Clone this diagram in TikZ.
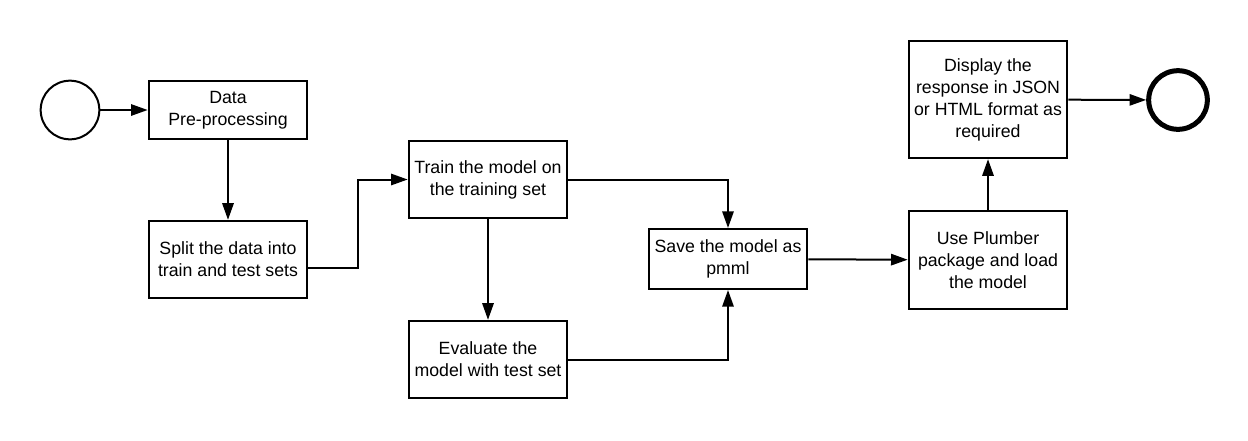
\documentclass[tikz,border=0pt]{standalone}
\usepackage{fontspec}
\setmainfont{Liberation Sans}
\usetikzlibrary{arrows.meta}

\begin{document}
\begin{tikzpicture}[
        x=0.75pt, y=-0.75pt,
        every node/.style={font=\fontsize{13.3}{16.5}\selectfont},
        stepbox/.style={rectangle, draw=black, line width=1.5pt, minimum width=119pt, align=center, inner sep=0pt},
        startnode/.style={circle, draw=black, line width=1.5pt, minimum size=44pt, inner sep=0pt},
        endnode/.style={circle, draw=black, line width=3.75pt, minimum size=44pt, inner sep=0pt},
        flow/.style={-{Triangle[length=12.5pt, width=8.5pt]}, line width=1.5pt}
        ]
        \useasboundingbox (0,0) rectangle (1248,440);

        \node [startnode] (start) at (70,110) {};
        \node [stepbox, minimum height=43pt] (prep) at (228,110) {Data\\Pre-processing};
        \node [stepbox, minimum height=58pt] (split) at (228,259.5) {Split the data into\\train and test sets};
        \node [stepbox, minimum height=58pt] (train) at (488,179.5) {Train the model on\\the training set};
        \node [stepbox, minimum height=58pt] (eval) at (488,359.5) {Evaluate the\\model with test set};
        \node [stepbox, minimum height=45pt] (save) at (728,259) {Save the model as\\pmml};
        \node [stepbox, minimum height=73pt] (plumber) at (988,260) {Use Plumber\\package and load\\the model};
        \node [stepbox, minimum height=88pt] (display) at (988,99.5) {Display the\\response in JSON\\or HTML format as\\required};
        \node [endnode] (stop) at (1178,100) {};

        \draw[flow] (start) -- (prep);
        \draw[flow] (prep) -- (split);
        \draw[flow] ([yshift=-6.5pt]split.east) -- ++(50,0) |- (train.west);
        \draw[flow] (train) -- (eval);
        \draw[flow] (train.east) -| (save.north);
        \draw[flow] (eval.east) -| (save.south);
        \draw[flow] (save) -- (plumber);
        \draw[flow] (plumber) -- (display);
        \draw[flow] (display) -- (stop);
    \end{tikzpicture}
\end{document}
